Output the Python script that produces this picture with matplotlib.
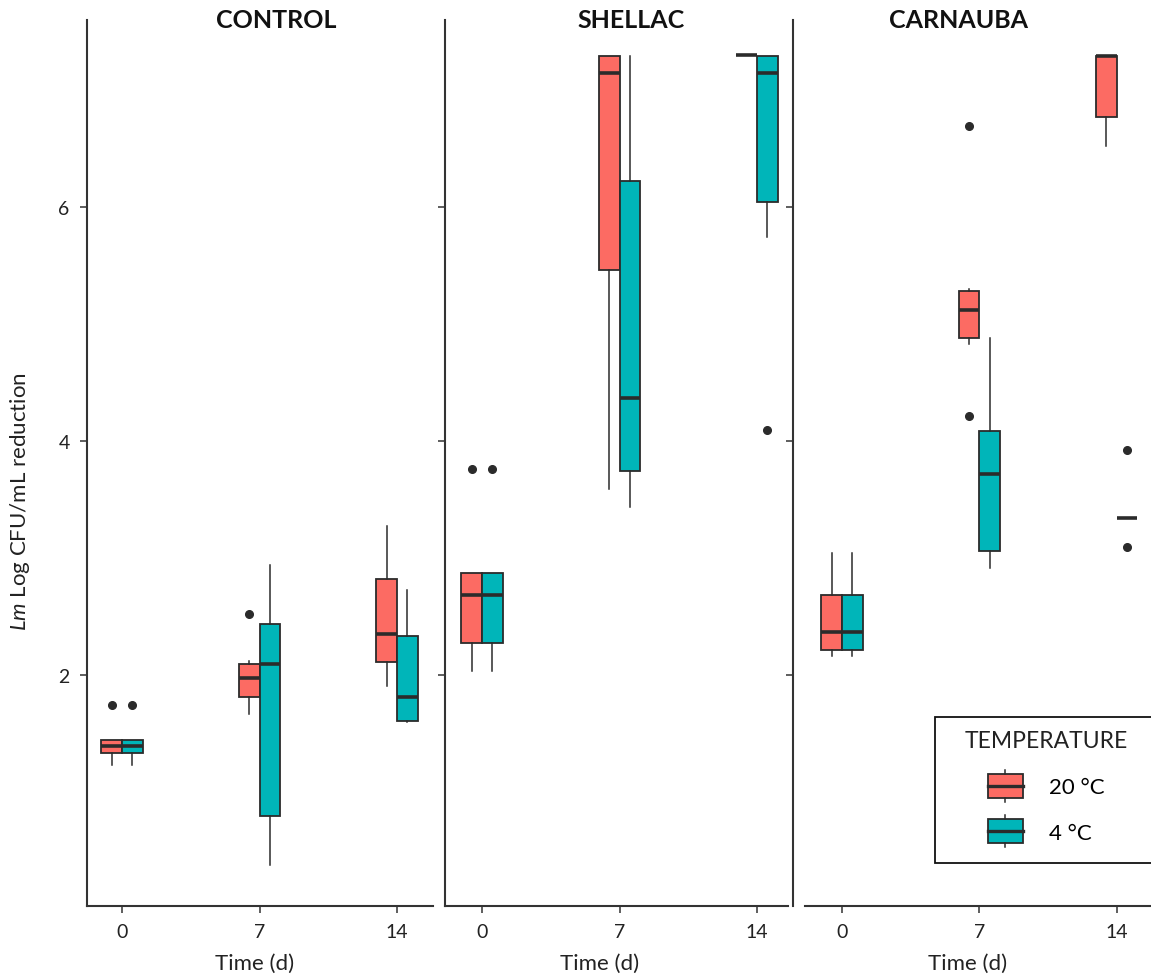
import matplotlib
matplotlib.use("Agg")
import matplotlib.pyplot as plt
from matplotlib.patches import Patch, Rectangle
from matplotlib.lines import Line2D
from matplotlib.legend_handler import HandlerBase

plt.rcParams['font.family'] = ['Lato', 'DejaVu Sans']
plt.rcParams['mathtext.fontset'] = 'custom'
plt.rcParams['mathtext.rm'] = 'Lato'
plt.rcParams['mathtext.it'] = 'Lato:italic'

# data: (whislo, q1, median, q3, whishi) for days 0, 7, 14
days = ['0', '7', '14']
panels = ['CONTROL', 'SHELLAC', 'CARNAUBA']
temps = ['20 °C', '4 °C']

control_20 = [(1.23, 1.33, 1.39, 1.44, 1.44), (1.66, 1.81, 1.97, 2.09, 2.12), (1.90, 2.11, 2.35, 2.82, 3.27)]
control_20_out = [[1.74], [2.52], []]
control_4 = [(1.23, 1.33, 1.39, 1.44, 1.44), (0.37, 0.79, 2.09, 2.43, 2.94), (1.59, 1.60, 1.81, 2.33, 2.72)]
control_4_out = [[1.74], [], []]

shellac_20 = [(2.03, 2.27, 2.68, 2.87, 2.87), (3.59, 5.46, 7.15, 7.29, 7.29), (7.30, 7.30, 7.30, 7.30, 7.30)]
shellac_20_out = [[3.76], [], []]
shellac_4 = [(2.03, 2.27, 2.68, 2.87, 2.87), (3.43, 3.74, 4.37, 6.22, 7.29), (5.74, 6.04, 7.15, 7.29, 7.29)]
shellac_4_out = [[3.76], [], [4.09]]

carnauba_20 = [(2.16, 2.21, 2.36, 2.68, 3.04), (4.83, 4.88, 5.12, 5.28, 5.30), (6.52, 6.77, 7.29, 7.29, 7.29)]
carnauba_20_out = [[], [6.69, 4.21], []]
carnauba_4 = [(2.16, 2.21, 2.36, 2.68, 3.04), (2.91, 3.06, 3.72, 4.08, 4.88), (3.34, 3.34, 3.34, 3.34, 3.34)]
carnauba_4_out = [[], [], [3.92, 3.09]]

series = {
    'CONTROL': [(control_20, control_20_out), (control_4, control_4_out)],
    'SHELLAC': [(shellac_20, shellac_20_out), (shellac_4, shellac_4_out)],
    'CARNAUBA': [(carnauba_20, carnauba_20_out), (carnauba_4, carnauba_4_out)],
}

colors = ['#FC6B63', '#00B5B9']
edge = '#2b2b2b'
spine_c = '#333333'

W, H = 1151, 978
# axes boxes in pixels: left, right, xlim
boxes = [(87, 433, (-0.255, 2.262)), (445, 788, (-0.269, 2.225)), (793, 1151, (-0.356, 2.25))]
title_x = [0.546, 0.542, 0.461]
xlab_x = [0.483, 0.452, 0.489]
top_px, bot_px = 21, 907


class BoxKey(HandlerBase):
    def create_artists(self, legend, orig_handle, xdescent, ydescent, width, height, fontsize, trans):
        x0 = -xdescent + width * 0.4
        w = width * 0.6
        y0 = -ydescent
        stub = height * 0.125
        fc = orig_handle.get_facecolor()
        rect = Rectangle((x0, y0 + stub), w, height - 2 * stub, facecolor=fc,
                         edgecolor=edge, lw=1.3, transform=trans)
        med = Line2D([x0, x0 + w], [y0 + height / 2] * 2, color=edge, lw=2.4, transform=trans)
        wlo = Line2D([x0 + w / 2] * 2, [y0, y0 + stub], color=edge, lw=1.1, transform=trans)
        whi = Line2D([x0 + w / 2] * 2, [y0 + height - stub, y0 + height], color=edge, lw=1.1, transform=trans)
        return [rect, med, wlo, whi]


def make_stats(vals, outs):
    st = []
    for (lo, q1, med, q3, hi), fl in zip(vals, outs):
        st.append(dict(whislo=lo, q1=q1, med=med, q3=q3, whishi=hi, fliers=fl))
    return st


def main():
    fig = plt.figure(figsize=(W / 100, H / 100), dpi=100)
    for k, name in enumerate(panels):
        left, right, xl = boxes[k]
        ax = fig.add_axes([left / W, (H - bot_px) / H, (right - left) / W, (bot_px - top_px) / H])
        for j, (vals, outs) in enumerate(series[name]):
            offs = -0.075 if j == 0 else 0.075
            pos = [i + offs for i in range(len(days))]
            ax.bxp(make_stats(vals, outs), positions=pos, widths=0.15, patch_artist=True,
                   showcaps=False, manage_ticks=False,
                   boxprops=dict(facecolor=colors[j], edgecolor=edge, linewidth=1.3),
                   medianprops=dict(color=edge, linewidth=2.6, solid_capstyle='butt'),
                   whiskerprops=dict(color=edge, linewidth=1.1),
                   flierprops=dict(marker='o', markerfacecolor=edge, markeredgecolor=edge,
                                   markersize=5.5))
        ax.set_xlim(*xl)
        ax.set_ylim(0.02, 7.6)
        ax.set_xticks(range(len(days)))
        ax.set_xticklabels(days)
        ax.set_yticks([2, 4, 6])
        for s in ['top', 'right']:
            ax.spines[s].set_visible(False)
        for s in ['left', 'bottom']:
            ax.spines[s].set_color(spine_c)
            ax.spines[s].set_linewidth(1.5)
        if k == 2:
            ax.spines['bottom'].set_bounds(-0.27, xl[1])
        ax.tick_params(axis='both', length=5, width=1.1, color=spine_c, labelsize=14,
                       labelcolor='#222222', pad=7.5)
        if k > 0:
            ax.tick_params(axis='y', labelleft=False)
        ax.set_xlabel('Time (d)', fontsize=16, color='#222222')
        ax.xaxis.set_label_coords(xlab_x[k], -0.053)
        ax.text(title_x[k], 1.0, name, transform=ax.transAxes, ha='center', va='center',
                fontsize=18, fontweight='bold', color='#111111')

    fig.text(20 / W, (H - 502) / H, r'$\mathit{Lm}$ Log CFU/mL reduction', rotation=90,
             ha='center', va='center', fontsize=16, color='#222222')

    # legend frame, title and entries
    fig.patches.append(Rectangle((935 / W, (H - 864) / H), 0.3, 146 / H, transform=fig.transFigure,
                                 facecolor='white', edgecolor='#111111', lw=1.3, zorder=5))
    fig.text(965 / W, (H - 742) / H, 'TEMPERATURE', ha='left', va='center', fontsize=16.5,
             color='#222222', zorder=6)
    handles = [Patch(facecolor=c, label=t) for c, t in zip(colors, temps)]
    leg = fig.legend(handles=handles, loc='upper left',
                     bbox_to_anchor=(965 / W, (H - 771) / H), frameon=False,
                     borderpad=0, borderaxespad=0, fontsize=16,
                     handler_map={Patch: BoxKey()}, handlelength=2.6, handleheight=1.84,
                     handletextpad=1.2, labelspacing=0.6)
    leg.set_zorder(6)

    fig.savefig('out.png', dpi=100)


if __name__ == '__main__':
    main()
